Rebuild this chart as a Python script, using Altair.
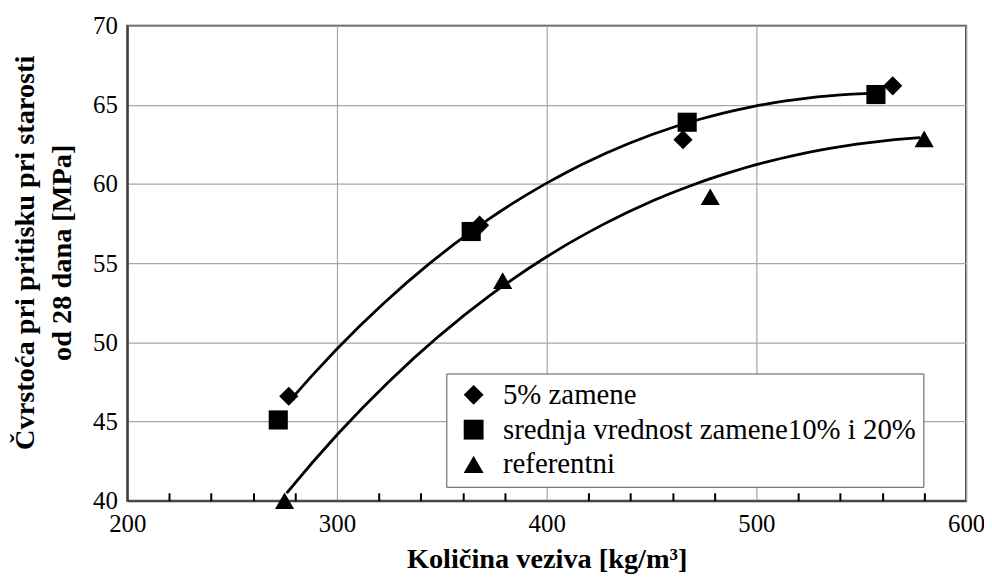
import altair as alt
import pandas as pd

series_names = ["5% zamene", "srednja vrednost zamene10% i 20%", "referentni"]
series_shapes = ["diamond", "square", "triangle-up"]

# measured points
x_5 = [277, 368, 465, 565]
y_5 = [46.6, 57.4, 62.8, 66.2]
x_sr = [272, 364, 467, 557]
y_sr = [45.1, 57.0, 63.9, 65.65]
x_ref = [275, 379, 478, 580]
y_ref = [40.0, 53.9, 59.2, 62.85]

# trend curves (smoothed by a cubic fit below)
x_up_curve = [277, 300, 341, 373, 400, 433, 467, 500, 530, 557]
y_up_curve = [46.0, 50.0, 54.5, 57.8, 60.0, 62.2, 63.9, 65.0, 65.5, 65.7]
x_low_curve = [276, 300, 341, 373, 400, 433, 477, 500, 534, 578]
y_low_curve = [40.3, 44.4, 49.5, 53.1, 55.3, 57.7, 60.2, 61.25, 62.5, 62.8]

x_ticks = [200, 300, 400, 500, 600]
x_minor = [220, 240, 260, 280, 320, 340, 360, 380, 420, 440, 460, 480, 520, 540, 560, 580]
y_ticks = [40, 45, 50, 55, 60, 65, 70]

rows = []
for xs, ys, name in [(x_5, y_5, series_names[0]),
                     (x_sr, y_sr, series_names[1]),
                     (x_ref, y_ref, series_names[2])]:
    for xv, yv in zip(xs, ys):
        rows.append({"x": xv, "y": yv, "serija": name})
pts = pd.DataFrame(rows)

crows = []
for xs, ys, name in [(x_up_curve, y_up_curve, "gornja"), (x_low_curve, y_low_curve, "donja")]:
    for xv, yv in zip(xs, ys):
        crows.append({"x": xv, "y": yv, "kriva": name})
curves = pd.DataFrame(crows)

FONT = "Liberation Serif"
xscale = alt.Scale(domain=[200, 600], nice=False, zero=False)
yscale = alt.Scale(domain=[40, 70], nice=False, zero=False)

main_x_axis = alt.Axis(values=x_ticks, grid=True, ticks=False, orient="bottom",
                       labelFont=FONT, labelFontSize=25, labelColor="black",
                       labelPadding=11, labelFlush=False,
                       title="Količina veziva [kg/m³]", titleFont=FONT,
                       titleFontSize=28.5, titleFontWeight="bold", titleColor="black",
                       titlePadding=8)
minor_x_axis = alt.Axis(values=x_minor, grid=False, ticks=True, tickSize=8,
                        tickWidth=2, tickColor="black", orient="bottom",
                        labels=False, domain=False, offset=-8, title=None)
y_axis = alt.Axis(values=y_ticks, grid=True, ticks=False,
                  labelFont=FONT, labelFontSize=25, labelColor="black",
                  labelPadding=10,
                  title=["Čvrstoća pri pritisku pri starosti", "od 28 dana [MPa]"],
                  titleFont=FONT, titleFontSize=28.5, titleFontWeight="bold",
                  titleColor="black", titleLineHeight=37, titlePadding=16,
                  titleY=228)

lines = alt.Chart(curves).transform_regression(
    "x", "y", groupby=["kriva"], method="poly", order=3
).mark_line(color="black", strokeWidth=2.8).encode(
    x=alt.X("x:Q", scale=xscale, axis=main_x_axis),
    y=alt.Y("y:Q", scale=yscale, axis=y_axis),
    detail="kriva:N",
)
points = alt.Chart(pts).mark_point(filled=True, opacity=1, color="black", size=370).encode(
    x=alt.X("x:Q", scale=xscale, axis=minor_x_axis),
    y=alt.Y("y:Q", scale=yscale),
    shape=alt.Shape("serija:N",
                    scale=alt.Scale(domain=series_names, range=series_shapes),
                    legend=alt.Legend(title=None, orient="none", legendX=321, legendY=350,
                                      strokeColor="#555555", fillColor="white",
                                      padding=7, labelFont=FONT, labelFontSize=29,
                                      labelColor="black", labelLimit=700,
                                      symbolOffset=6, labelOffset=15, symbolSize=400,
                                      symbolFillColor="black", symbolStrokeColor="black",
                                      rowPadding=5)),
)

chart = alt.layer(lines, points).resolve_axis(x="independent").properties(
    width=844, height=478,
    autosize=alt.AutoSizeParams(type="none"),
    padding={"left": 120, "top": 16, "right": 18, "bottom": 75},
).configure_view(stroke="#404040", strokeWidth=2).configure_axis(
    domainColor="#404040", domainWidth=2, gridColor="#a6a6a6", gridWidth=1.2
)

chart.save("out.html", embed_options={"renderer": "svg", "actions": False})
